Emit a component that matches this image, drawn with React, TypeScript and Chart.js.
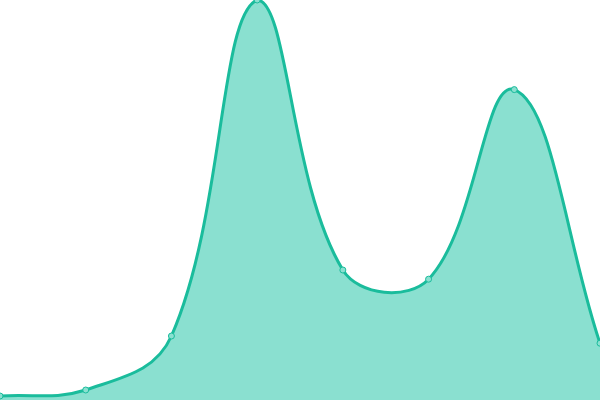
import { useEffect, useRef } from "react";
import { Chart, registerables } from "chart.js";

Chart.register(...registerables);

// values (scale 0..100)
const labels = ["1", "2", "3", "4", "5", "6", "7", "8"];
const values = [1, 2.5, 16, 100, 32.5, 30.2, 77.6, 14.2];

export default function App() {
  const canvasRef = useRef<HTMLCanvasElement | null>(null);

  useEffect(() => {
    if (!canvasRef.current) return;
    const chart = new Chart(canvasRef.current, {
      type: "line",
      data: {
        labels,
        datasets: [
          {
            data: values,
            borderColor: "#1abc9c",
            backgroundColor: "#8ae0d0",
            borderWidth: 3,
            fill: true,
            tension: 0.4,
            pointRadius: 3,
            pointBorderWidth: 1,
            pointBackgroundColor: "#8ae0d0",
            pointBorderColor: "#1abc9c",
          },
        ],
      },
      options: {
        animation: false,
        responsive: true,
        maintainAspectRatio: false,
        layout: { padding: 0, autoPadding: false },
        plugins: { legend: { display: false }, tooltip: { enabled: false } },
        scales: {
          x: { display: false },
          y: { display: false, min: 0, max: 100 },
        },
      },
    });
    return () => chart.destroy();
  }, []);

  return (
    <div style={{ position: "fixed", left: 0, top: 0, width: 600, height: 400 }}>
      <canvas ref={canvasRef} />
    </div>
  );
}
